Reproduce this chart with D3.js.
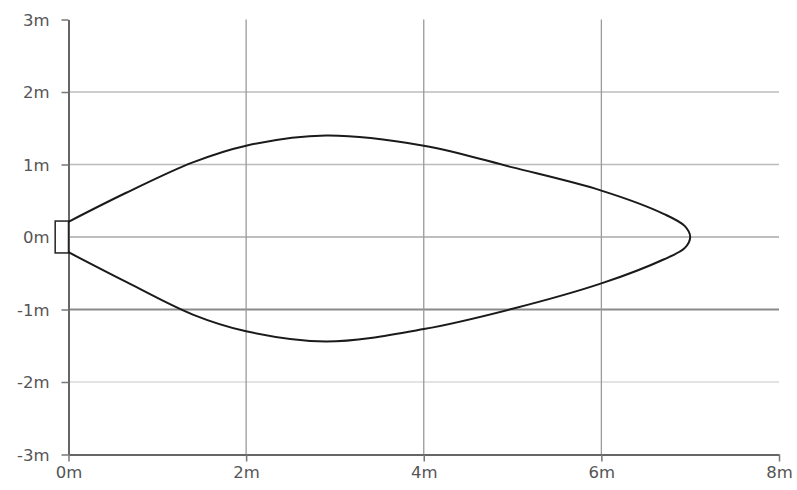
<!DOCTYPE html>
<html>
<head>
<meta charset="utf-8">
<script src="https://cdn.jsdelivr.net/npm/d3@7"></script>
<style>
  html, body { margin: 0; padding: 0; background: #fff; }
  svg { display: block; }
</style>
</head>
<body>
<svg width="797" height="490"></svg>
<script>
// axis ticks (metres)
const xTicks = [0, 2, 4, 6, 8];
const yTicks = [-3, -2, -1, 0, 1, 2, 3];

// upper edge of the lobe, from the source out to the tip
const upperX = [0, 0.65, 1.4, 2.0, 2.9, 4.0, 5.0, 6.0, 6.7, 6.94, 7.0];
const upperY = [0.21, 0.61, 1.03, 1.26, 1.40, 1.26, 0.96, 0.64, 0.32, 0.15, 0];

// lower edge of the lobe, from the source out to just before the tip
const lowerX = [0, 0.65, 1.4, 2.0, 2.9, 4.0, 5.0, 6.0, 6.7, 6.94];
const lowerY = [-0.21, -0.62, -1.07, -1.30, -1.44, -1.27, -0.99, -0.64, -0.31, -0.15];

// the small box at the origin (the source)
const boxX = [-0.15, 0];
const boxY = [-0.22, 0.22];

const svg = d3.select("svg");
const width = +svg.attr("width");
const height = +svg.attr("height");
const margin = { top: 19.5, right: 18, bottom: 35.5, left: 68.5 };
const innerWidth = width - margin.left - margin.right;
const innerHeight = height - margin.top - margin.bottom;

const g = svg.append("g")
  .attr("transform", `translate(${margin.left},${margin.top})`);

const x = d3.scaleLinear().domain([0, 8]).range([0, innerWidth]);
const y = d3.scaleLinear().domain([-3, 3]).range([innerHeight, 0]);

// horizontal grid lines - the scan has them in slightly different greys
const hGridStyle = {
  "2": { stroke: "#bdbdbd", width: 1.3 },
  "1": { stroke: "#bbbbbb", width: 1.3 },
  "0": { stroke: "#a8a8a8", width: 1.5 },
  "-1": { stroke: "#8a8a8a", width: 2.2 },
  "-2": { stroke: "#dadada", width: 1.3 }
};
g.append("g").selectAll("line")
  .data(yTicks.filter(d => d > -3 && d < 3))
  .enter().append("line")
    .attr("x1", 0)
    .attr("x2", innerWidth)
    .attr("y1", d => y(d))
    .attr("y2", d => y(d))
    .attr("stroke", d => hGridStyle[d].stroke)
    .attr("stroke-width", d => hGridStyle[d].width);

// vertical grid lines
g.append("g").selectAll("line")
  .data(xTicks.filter(d => d > 0 && d < 8))
  .enter().append("line")
    .attr("x1", d => x(d))
    .attr("x2", d => x(d))
    .attr("y1", 0)
    .attr("y2", innerHeight)
    .attr("stroke", "#9a9a9a")
    .attr("stroke-width", 1.3);

// axes
const yAxis = g.append("g")
  .call(d3.axisLeft(y).tickValues(yTicks).tickFormat(d => d + "m").tickSize(7).tickPadding(12).tickSizeOuter(0));
const xAxis = g.append("g")
  .attr("transform", `translate(0,${innerHeight})`)
  .call(d3.axisBottom(x).tickValues(xTicks).tickFormat(d => d + "m").tickSize(7).tickPadding(5).tickSizeOuter(0));

[yAxis, xAxis].forEach(a => {
  a.attr("font-family", "'DejaVu Sans', sans-serif").attr("font-size", 16.5);
  a.select(".domain").attr("stroke", "#666").attr("stroke-width", 2);
  a.selectAll(".tick line").attr("stroke", "#777").attr("stroke-width", 1.5);
  a.selectAll(".tick text").attr("fill", "#555");
});
yAxis.selectAll(".tick text").attr("dy", "0.36em");
xAxis.selectAll(".tick text").attr("dy", "0.71em");

// source box
g.append("rect")
  .attr("x", x(boxX[0]))
  .attr("y", y(boxY[1]))
  .attr("width", x(boxX[1]) - x(boxX[0]))
  .attr("height", y(boxY[0]) - y(boxY[1]))
  .attr("fill", "#fff")
  .attr("stroke", "#222")
  .attr("stroke-width", 1.5);

// the lobe: upper edge out to the tip, then the lower edge back
const lobe = upperX.map((d, i) => [d, upperY[i]])
  .concat(lowerX.map((d, i) => [d, lowerY[i]]).reverse());

const line = d3.line()
  .x(d => x(d[0]))
  .y(d => y(d[1]))
  .curve(d3.curveCatmullRom.alpha(0.5));

g.append("path")
  .datum(lobe)
  .attr("fill", "none")
  .attr("stroke", "#1a1a1a")
  .attr("stroke-width", 2)
  .attr("d", line);
</script>
</body>
</html>
